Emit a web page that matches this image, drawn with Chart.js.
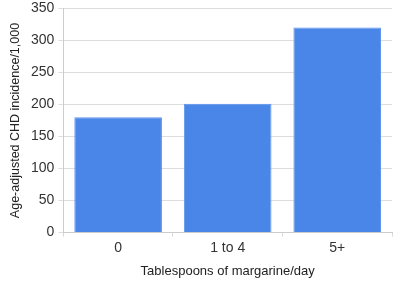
<!DOCTYPE html>
<html>
<head>
<meta charset="utf-8">
<script src="https://cdn.jsdelivr.net/npm/chart.js@4"></script>
<style>
  html, body { margin: 0; padding: 0; background: #fff; overflow: hidden; }
  #wrap { width: 400px; height: 288px; margin-top: -4px; }
</style>
</head>
<body>
<div id="wrap"><canvas id="chart"></canvas></div>
<script>
const categories = ["0", "1 to 4", "5+"];
const incidence = [180, 201, 320];
const yTitle = "Age-adjusted CHD incidence/1,000";
const xTitle = "Tablespoons of margarine/day";

const ctx = document.getElementById("chart").getContext("2d");
new Chart(ctx, {
  type: "bar",
  data: {
    labels: categories,
    datasets: [{
      data: incidence,
      backgroundColor: "#4a86e8",
      borderColor: "#5b93ee",
      borderWidth: 1,
      barPercentage: 0.8,
      categoryPercentage: 1.0
    }]
  },
  options: {
    responsive: true,
    maintainAspectRatio: false,
    animation: false,
    layout: { padding: { top: 0, right: 8, left: 4, bottom: 1 } },
    plugins: { legend: { display: false }, tooltip: { enabled: false } },
    scales: {
      x: {
        grid: { color: "#d9d9d9", drawOnChartArea: false, tickLength: 4 },
        border: { color: "#cccccc" },
        ticks: { color: "#333", font: { family: "Liberation Sans", size: 14 }, padding: 3 },
        title: { display: true, text: xTitle, color: "#222", font: { family: "Liberation Sans", size: 13 }, padding: { top: 4 } }
      },
      y: {
        min: 0,
        max: 350,
        grid: { color: "#dddddd", tickLength: 5 },
        border: { color: "#cccccc" },
        ticks: { stepSize: 50, color: "#333", font: { family: "Liberation Sans", size: 14 }, padding: 4 },
        title: { display: true, text: yTitle, color: "#222", font: { family: "Liberation Sans", size: 12.5 }, padding: { bottom: 4 } }
      }
    }
  }
});
</script>
</body>
</html>
